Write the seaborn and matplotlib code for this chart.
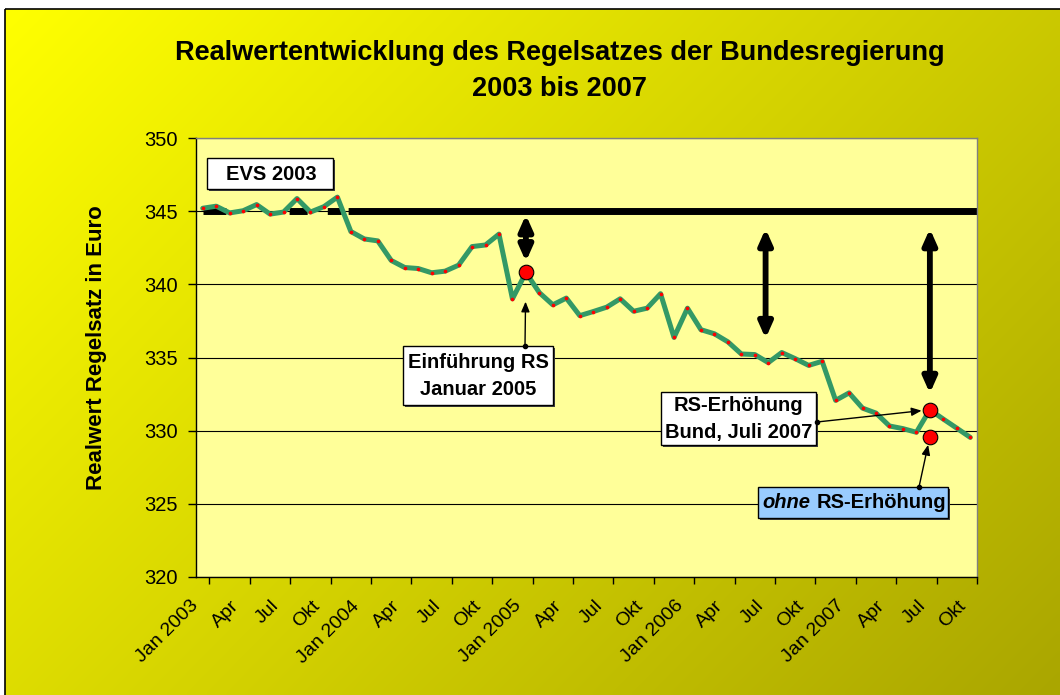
import numpy as np
import pandas as pd
import seaborn as sns
import matplotlib.pyplot as plt
from matplotlib.patches import Rectangle
from matplotlib.transforms import ScaledTranslation

# Realwert des Regelsatzes (Euro), monatlich Jan 2003 - Okt 2007
werte = [345.2, 345.34, 344.88, 345.03, 345.45, 344.8, 344.94, 345.86, 344.94, 345.31,
         345.96, 343.61, 343.1, 342.97, 341.63, 341.15, 341.08, 340.79, 340.9, 341.31,
         342.58, 342.69, 343.43, 339.01, 340.81, 339.43, 338.6, 339.06, 337.86, 338.14,
         338.44, 339.01, 338.16, 338.37, 339.36, 336.37, 338.37, 336.9, 336.62, 336.07,
         335.24, 335.2, 334.65, 335.34, 334.92, 334.46, 334.74, 332.07, 332.58, 331.54,
         331.2, 330.32, 330.14, 329.89, 331.43, 330.79, 330.17, 329.54]
tick_labels = ['Jan 2003', 'Apr', 'Jul', 'Okt', 'Jan 2004', 'Apr', 'Jul', 'Okt',
               'Jan 2005', 'Apr', 'Jul', 'Okt', 'Jan 2006', 'Apr', 'Jul', 'Okt',
               'Jan 2007', 'Apr', 'Jul', 'Okt']
evs_2003 = 345.0
ohne_erhoehung = 329.59
idx_einfuehrung = 24   # Jan 2005
idx_erhoehung = 54     # Jul 2007

# Doppelpfeile (Abstand zur EVS-Linie)
pfeil_x = [24, 41.8, 54]
pfeil_oben = [344.75, 343.8, 343.8]
pfeil_unten = [341.55, 336.3, 332.55]

n = len(werte)
df = pd.DataFrame({'monat': np.arange(n), 'wert': werte})
punkte = pd.DataFrame({'monat': [idx_einfuehrung, idx_erhoehung, idx_erhoehung],
                       'wert': [werte[idx_einfuehrung], werte[idx_erhoehung], ohne_erhoehung]})

sns.set_theme(style='white')
plt.rcParams['font.family'] = ['Liberation Sans', 'DejaVu Sans']
plt.rcParams['lines.scale_dashes'] = False
plt.rcParams['text.color'] = 'black'
plt.rcParams['xtick.color'] = 'black'
plt.rcParams['ytick.color'] = 'black'

W, H = 1060, 695
fig = plt.figure(figsize=(W / 100, H / 100), dpi=100)

# background gradient
bg = fig.add_axes([0, 0, 1, 1], zorder=-10)
X, Y = np.meshgrid(np.linspace(0, 1, 200), np.linspace(0, 1, 130))
t = 0.61 * X + 0.39 * Y
c0 = np.array([1.0, 1.0, 0.0])
c1 = np.array([170, 166, 0]) / 255
grad = c0 + t[..., None] * (c1 - c0)
bg.imshow(grad, extent=[5, W, H, 9], aspect='auto', interpolation='bilinear')
bg.set_xlim(0, W)
bg.set_ylim(H, 0)
bg.add_patch(Rectangle((5, 9), W, H, fill=False, ec='black', lw=1.2))
bg.axis('off')

ax = fig.add_axes([196 / W, 1 - 577 / H, (977 - 196) / W, (577 - 138) / H])
ax.set_facecolor('#FFFF99')

# EVS 2003 Linie
ax.plot([0, n - 0.5], [evs_2003, evs_2003], color='black', lw=5,
        dashes=(16.5, 45.5, 13, 14.5, 10, 5, 900, 1), dash_capstyle='butt', zorder=2)

sns.lineplot(data=df, x='monat', y='wert', color='#339966', lw=3.6, ax=ax, zorder=3)
sns.scatterplot(data=df, x='monat', y='wert', color='red', s=7, linewidth=0, ax=ax, zorder=4)
sns.scatterplot(data=punkte, x='monat', y='wert', color='red', s=110, edgecolor='black',
                linewidth=0.8, ax=ax, zorder=6)

for x, y0, y1 in zip(pfeil_x, pfeil_oben, pfeil_unten):
    ax.annotate('', xy=(x, y1), xytext=(x, y0),
                arrowprops=dict(arrowstyle='<|-|>,head_length=0.9,head_width=0.4',
                                color='black', lw=4.2, shrinkA=0, shrinkB=0,
                                mutation_scale=10), zorder=5)

ax.set_xlim(-0.5, n - 0.5)
ax.set_ylim(320, 350)
ax.set_yticks(np.arange(320, 351, 5))
ax.set_xticks(np.arange(0, n, 3))
ax.set_xticklabels(tick_labels)
ax.set_xticks(np.arange(0.5, n, 3), minor=True)
ax.set_xlabel('')
ax.set_ylabel('')
ax.set_axisbelow(True)
ax.yaxis.grid(True, color='black', lw=0.8)
ax.xaxis.grid(False)

ax.tick_params(axis='y', left=True, length=6, width=1, color='black', pad=7,
               labelsize=14.5, labelcolor='black', direction='out')
ax.tick_params(axis='x', which='major', bottom=True, length=0, pad=19, labelsize=14,
               labelcolor='black')
ax.tick_params(axis='x', which='minor', bottom=True, length=5, width=1, color='black',
               direction='out')
shift = ScaledTranslation(-7 / 100, 0, fig.dpi_scale_trans)
for lab in ax.get_xticklabels():
    lab.set_rotation(45)
    lab.set_ha('right')
    lab.set_va('center')
    lab.set_rotation_mode('anchor')
    lab.set_transform(lab.get_transform() + shift)

for s in ['left', 'bottom']:
    ax.spines[s].set_color('black')
    ax.spines[s].set_linewidth(1)
for s in ['top', 'right']:
    ax.spines[s].set_color('#808080')
    ax.spines[s].set_linewidth(1)

# connectors from boxes
verbinder = [((525, 346), (idx_einfuehrung, werte[idx_einfuehrung]), 21),
             ((817, 422), (idx_erhoehung, werte[idx_erhoehung]), 6),
             ((919, 487), (idx_erhoehung, ohne_erhoehung), 6)]
for (px, py), xy, shr in verbinder:
    ax.annotate('', xy=xy, xycoords='data', xytext=(px, H - py), textcoords='figure pixels',
                arrowprops=dict(arrowstyle='-|>,head_length=0.6,head_width=0.25',
                                color='black', lw=1, shrinkA=0, shrinkB=shr,
                                mutation_scale=10),
                annotation_clip=False, zorder=5)

# overlay for text boxes
ov = fig.add_axes([0, 0, 1, 1], zorder=10)
ov.set_xlim(0, W)
ov.set_ylim(H, 0)
ov.axis('off')
ov.patch.set_alpha(0)

boxen = [(207, 158, 333, 189, 'white'),
         (403, 346, 553, 405, 'white'),
         (661, 392, 816, 445, 'white'),
         (758, 487, 948, 518, '#99CCFF')]
for x0, y0, x1, y1, fc in boxen:
    ov.add_patch(Rectangle((x0 + 2, y0 + 2), x1 - x0, y1 - y0, fc='#404040', ec='none'))
    ov.add_patch(Rectangle((x0, y0), x1 - x0, y1 - y0, fc=fc, ec='black', lw=1))

txt = dict(fontsize=14.5, fontweight='bold', ha='center', va='center', linespacing=1.5)
ov.text(271, 174, 'EVS 2003', **txt)
ov.text(478, 376, 'Einführung RS\nJanuar 2005', **txt)
ov.text(738.5, 419, 'RS-Erhöhung\nBund, Juli 2007', **txt)
ov.text(810, 503, 'ohne', fontsize=14.5, fontweight='bold', fontstyle='italic', ha='right', va='center')
ov.text(817, 503, 'RS-Erhöhung', fontsize=14.5, fontweight='bold', ha='left', va='center')
for px, py in [(525, 346), (817, 422), (919, 487)]:
    ov.plot(px, py, 'o', color='black', ms=3)

fig.text(560 / W, 1 - 71 / H, 'Realwertentwicklung des Regelsatzes der Bundesregierung\n2003 bis 2007',
         ha='center', va='center', fontsize=19.5, fontweight='bold', linespacing=1.55)
fig.text(97 / W, 1 - 347.5 / H, 'Realwert Regelsatz in Euro', rotation=90,
         ha='center', va='center', fontsize=16, fontweight='bold')

fig.savefig('out.png', dpi=100)
